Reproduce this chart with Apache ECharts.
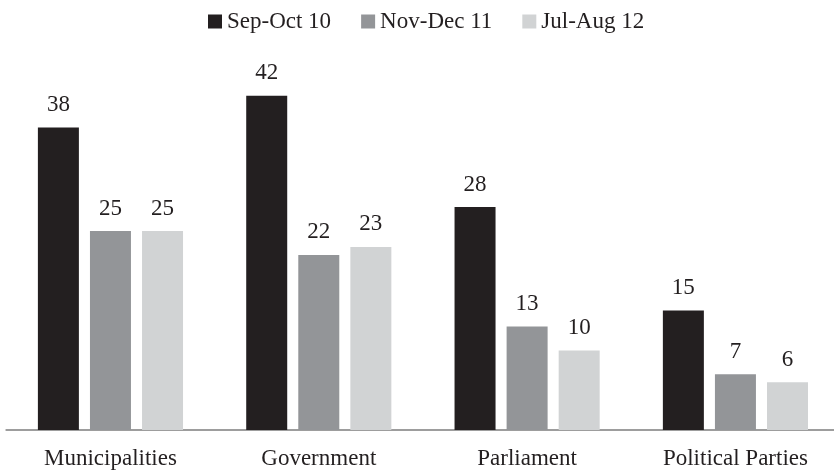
<!DOCTYPE html>
<html>
<head>
<meta charset="utf-8">
<script src="https://cdn.jsdelivr.net/npm/echarts@6/dist/echarts.min.js"></script>
<style>
  html, body { margin: 0; padding: 0; background: #fff; }
  #chart { width: 834px; height: 470px; }
</style>
</head>
<body>
<div id="chart"></div>
<script>
// Survey categories and the three survey waves
const categories = ['Municipalities', 'Government', 'Parliament', 'Political Parties'];
const seriesNames = ['Sep-Oct 10', 'Nov-Dec 11', 'Jul-Aug 12'];
const sepOct10 = [38, 42, 28, 15];
const novDec11 = [25, 22, 13, 7];
const julAug12 = [25, 23, 10, 6];

const colors = ['#231f20', '#939598', '#d1d3d4'];
const font = '"Liberation Serif", "Times New Roman", serif';

const chart = echarts.init(document.getElementById('chart'));

function bar(name, data, color) {
  return {
    name: name,
    type: 'bar',
    data: data,
    barWidth: 41,
    barGap: '27%',
    itemStyle: { color: color },
    label: {
      show: true,
      position: 'top',
      distance: 11,
      color: '#231f20',
      fontFamily: font,
      fontSize: 23
    }
  };
}

chart.setOption({
  animation: false,
  textStyle: { fontFamily: font },
  legend: {
    top: 5,
    left: 203,
    itemWidth: 14,
    itemHeight: 14,
    itemGap: 30,
    icon: 'rect',
    textStyle: { fontFamily: font, fontSize: 23, color: '#231f20' },
    data: seriesNames
  },
  grid: { left: 6.3, width: 833.3, top: 32, bottom: 40, outerBoundsMode: 'none', containLabel: false },
  xAxis: {
    type: 'category',
    data: categories,
    axisLine: { lineStyle: { color: '#9d9d9d', width: 2 } },
    axisTick: { show: false },
    axisLabel: { color: '#231f20', fontFamily: font, fontSize: 23, margin: 17 }
  },
  yAxis: {
    type: 'value',
    min: 0,
    max: 50,
    show: false,
    splitLine: { show: false }
  },
  series: [
    bar(seriesNames[0], sepOct10, colors[0]),
    bar(seriesNames[1], novDec11, colors[1]),
    bar(seriesNames[2], julAug12, colors[2])
  ]
});
</script>
</body>
</html>
